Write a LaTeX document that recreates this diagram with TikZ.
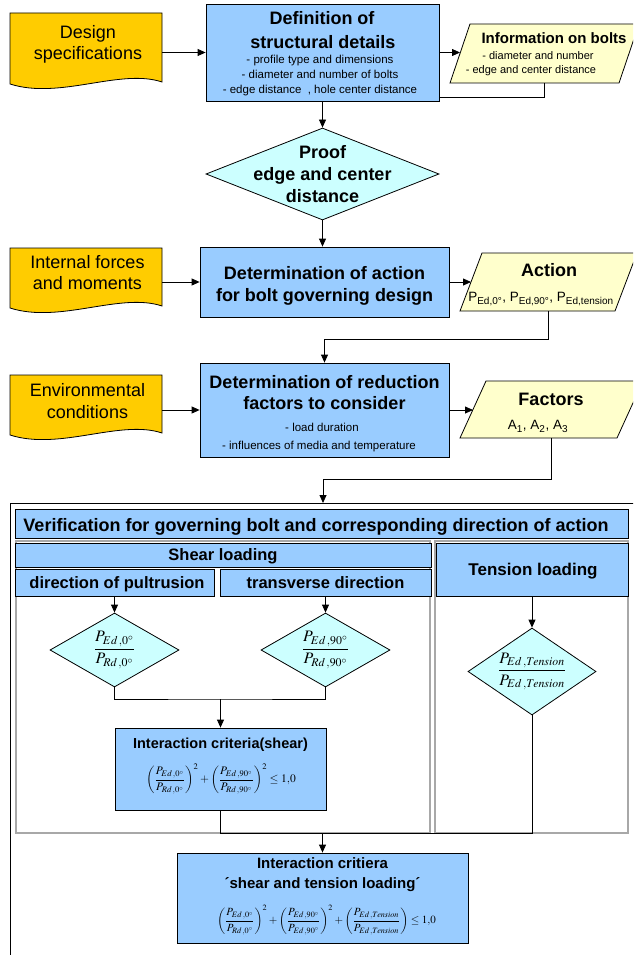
\documentclass[tikz,border=0pt]{standalone}
\usepackage{mathptmx}
\usepackage[no-math]{fontspec}
\setmainfont{Liberation Sans}
\usetikzlibrary{arrows.meta,shapes.geometric}
\definecolor{docyellow}{HTML}{FFCC00}
\definecolor{boxblue}{HTML}{99CCFF}
\definecolor{diacyan}{HTML}{CCFFFF}
\definecolor{paleyellow}{HTML}{FFFFCC}
\definecolor{panelgray}{HTML}{A8A8A8}

\tikzset{
  box/.style={draw=black, fill=boxblue, inner sep=0pt},
  decision/.style={diamond, draw=black, fill=diacyan, inner sep=0pt},
  dataio/.style={draw=black, fill=paleyellow},
  docshape/.style={draw=black, fill=docyellow},
  hull/.style={inner sep=0pt, outer sep=0pt},
  panel/.style={draw=panelgray, line width=1.2pt},
  arr/.style={-{Triangle[length=8pt,width=7pt]}},
  hb18/.style={inner sep=0pt, font=\bfseries\fontsize{18}{21}\selectfont, text height=13pt, text depth=0pt},
  hb17/.style={inner sep=0pt, font=\bfseries\fontsize{17}{20}\selectfont, text height=12.2pt, text depth=0pt},
  hb16/.style={inner sep=0pt, font=\bfseries\fontsize{16.5}{20}\selectfont, text height=11.9pt, text depth=0pt},
  hb15/.style={inner sep=0pt, font=\bfseries\fontsize{15}{18}\selectfont, text height=10.8pt, text depth=0pt},
  hb14/.style={inner sep=0pt, font=\bfseries\fontsize{14.5}{18}\selectfont, text height=10.4pt, text depth=0pt},
  tx18/.style={inner sep=0pt, font=\fontsize{18}{21}\selectfont, text height=13pt, text depth=0pt},
  tx13/.style={inner sep=0pt, font=\fontsize{13.5}{16}\selectfont, text height=9.7pt, text depth=0pt},
  tx11/.style={inner sep=0pt, font=\fontsize{11.5}{14}\selectfont, text height=8.3pt, text depth=0pt},
  tx11s/.style={inner sep=0pt, font=\fontsize{11}{14}\selectfont, text height=8pt, text depth=0pt},
  formula/.style={inner sep=0pt, font=\fontsize{11.5}{13}\selectfont},
  formulas/.style={inner sep=0pt, font=\fontsize{11}{13}\selectfont},
  ratio/.style={inner sep=0pt, font=\fontsize{16}{19}\selectfont},
}
% parallelogram around a hull node whose west/east anchors sit on the slanted sides
\newcommand\slantbox[2]{%
  \path[dataio] ([xshift=#2pt]#1.north west) -- ([xshift=#2pt]#1.north east)
    -- ([xshift=-#2pt]#1.south east) -- ([xshift=-#2pt]#1.south west) -- cycle;}

\begin{document}
\begin{tikzpicture}[x=1pt, y=-1pt, line width=0.8pt]
\useasboundingbox (0,0) rectangle (633,955);
\clip (0,0) rectangle (633,955);

% ---------- row 1: design specifications -> structural details -> bolt data
\path[docshape] (10,13) -- (162,13) -- (162,82) .. controls (120,68) and (60,100) .. (10,84) -- cycle;
\node[hull, minimum width=152, minimum height=71, anchor=north west] (spec) at (10,13) {};
\node[tx18] (specA) at (88,32) {Design};
\node[tx18] (specB) at (88,53) {specifications};

\node[box, minimum width=233, minimum height=97] (def) at (322.5,52.5) {};
\node[hb18] (defA) at (322,18) {Definition of};
\node[hb18] (defB) at (323,42) {structural details};
\node[tx11] (defC) at (320,59) {- profile type and dimensions};
\node[tx11] (defD) at (320,74) {- diameter and number of bolts};
\node[tx11] (defE) at (320,89) {- edge distance~~, hole center distance};

\node[hull, minimum width=169, minimum height=59] (info) at (544.5,53.5) {};
\slantbox{info}{10}
\node[hb15] (infoA) at (554,38) {Information on bolts};
\node[tx11s] (infoB) at (538,56) {- diameter and number};
\node[tx11s] (infoC) at (531,70) {- edge and center distance};

\draw[arr] (spec.east |- def.west) -- (def.west);
\draw[arr] (def.east) -- (def.east -| info.west);
\draw (info.south) |- ([yshift=4pt]def.south east);

% ---------- edge distance check
\node[decision, minimum width=233, minimum height=92] (proof) at (322.5,174) {};
\node[hb18] (proofA) at (322.5,152) {Proof};
\node[hb18] (proofB) at (322.5,174) {edge and center};
\node[hb18] (proofC) at (322.5,196) {distance};
\draw[arr] (def.south) -- (proof.north);

% ---------- row 2: governing action
\path[docshape] (10,248) -- (162,248) -- (162,306) .. controls (120,292) and (60,324) .. (10,308) -- cycle;
\node[hull, minimum width=152, minimum height=60, anchor=north west] (forces) at (10,248) {};
\node[tx18] (forcesA) at (87.5,262) {Internal forces};
\node[tx18] (forcesB) at (87.5,283) {and moments};

\node[box, minimum width=249, minimum height=70] (detact) at (324.5,282) {};
\node[hb18] (detactA) at (324.5,273) {Determination of action};
\node[hb18] (detactB) at (324.5,295) {for bolt governing design};

\node[hull, minimum width=155, minimum height=58] (action) at (548.5,282) {};
\slantbox{action}{11}
\node[hb18] (actionA) at (549,270) {Action};
\node[tx13] (actionB) at (541,297) {P\textsubscript{Ed,0°}, P\textsubscript{Ed,90°}, P\textsubscript{Ed,tension}};

\draw[arr] (proof.south) -- (proof.south |- detact.north);
\draw[arr] (forces.east |- detact.west) -- (detact.west);
\draw[arr] (detact.east) -- (detact.east -| action.west);

% ---------- row 3: reduction factors
\path[docshape] (10,375) -- (162,375) -- (162,433) .. controls (120,419) and (60,451) .. (10,435) -- cycle;
\node[hull, minimum width=152, minimum height=60, anchor=north west] (env) at (10,375) {};
\node[tx18] (envA) at (87.5,390) {Environmental};
\node[tx18] (envB) at (87.5,412) {conditions};

\node[box, minimum width=249, minimum height=94] (red) at (324.5,410) {};
\node[hb18] (redA) at (324.5,382) {Determination of reduction};
\node[hb18] (redB) at (324.5,403) {factors to consider};
\node[tx11] (redC) at (322,427) {- load duration};
\node[tx11] (redD) at (319,445) {- influences of media and temperature};

\node[hull, minimum width=157, minimum height=57] (factors) at (551.5,409.5) {};
\slantbox{factors}{13}
\node[hb18] (factorsA) at (551,399) {Factors};
\node[tx13] (factorsB) at (538,425) {A\textsubscript{1}, A\textsubscript{2}, A\textsubscript{3}};

\coordinate (j1) at (324.5,339);
\draw[arr] (action.south) |- (j1) -- (red.north);
\draw[arr] (env.east |- red.west) -- (red.west);
\draw[arr] (red.east) -- (red.east -| factors.west);

% ---------- verification block
\node[draw=black, line width=1pt, inner sep=0pt, minimum width=640, minimum height=470,
      anchor=north west] (frame) at (10,503) {};
\coordinate (j2) at (323,479);
\draw[arr] (factors.south) |- (j2) -- (j2 |- frame.north);

\node[box, minimum width=613, minimum height=29, anchor=north west] (verif) at (15,509) {};
\node[hb18] (verifA) at (316,525) {Verification for governing bolt and corresponding direction of action};

\draw[panel] (16,541) rectangle (430,833);
\draw[panel] (435,541) rectangle (628,833);

\node[box, minimum width=416, minimum height=24] (shear) at (223,555) {};
\node[hb16] (shearA) at (223,555) {Shear loading};
\node[box, minimum width=199, minimum height=27] (pult) at (114.5,582.5) {};
\node[hb16] (pultA) at (117,583) {direction of pultrusion};
\node[box, minimum width=211, minimum height=27] (trans) at (325.5,582.5) {};
\node[hb16] (transA) at (325.5,583) {transverse direction};
\node[box, minimum width=192, minimum height=53] (tens) at (532,569.5) {};
\node[hb17] (tensA) at (533,569) {Tension loading};

\node[decision, minimum width=129, minimum height=74] (d1) at (114.5,650) {};
\node[ratio] (f1) at (d1) {$\displaystyle\frac{P_{Ed\,,0^\circ}}{P_{Rd\,,0^\circ}}$};
\node[decision, minimum width=129, minimum height=74] (d2) at (325.5,650) {};
\node[ratio] (f2) at (d2) {$\displaystyle\frac{P_{Ed\,,90^\circ}}{P_{Rd\,,90^\circ}}$};
\node[decision, minimum width=128, minimum height=87] (dt) at (532,671.5) {};
\node[ratio] (ft) at (dt) {$\displaystyle\frac{P_{Ed\,,Tension}}{P_{Ed\,,Tension}}$};

\draw[arr] (pult.south) -- (d1.north);
\draw[arr] (trans.south) -- (d2.north);
\draw[arr] (tens.south) -- (dt.north);

\node[box, minimum width=211, minimum height=82] (ic) at (220.5,769) {};
\node[hb14] (icA) at (220.5,743) {Interaction criteria(shear)};
\node[formula] (icB) at (221,779) {$\displaystyle
  \left(\frac{P_{Ed\,,0^\circ}}{P_{Rd\,,0^\circ}}\right)^{2}+
  \left(\frac{P_{Ed\,,90^\circ}}{P_{Rd\,,90^\circ}}\right)^{2}\le 1{,}0$};

\coordinate (j3) at (220.5,699);
\draw (d1.south) |- (j3) -| (d2.south);
\draw[arr] (j3) -- (ic.north);

% ---------- combined check
\node[box, minimum width=291, minimum height=90] (fin) at (322.5,898) {};
\node[hb15] (finA) at (322.5,863) {Interaction critiera};
\node[hb15] (finB) at (322.5,883) {´shear and tension loading´};
\node[formulas] (finC) at (326.5,920) {$\displaystyle
  \left(\frac{P_{Ed\,,0^\circ}}{P_{Rd\,,0^\circ}}\right)^{2}+
  \left(\frac{P_{Ed\,,90^\circ}}{P_{Ed\,,90^\circ}}\right)^{2}+
  \left(\frac{P_{Ed\,,Tension}}{P_{Ed\,,Tension}}\right)\le 1{,}0$};

\coordinate (j4) at (322.5,833);
\draw (ic.south) |- (j4) -| (dt.south);
\draw[arr] (j4) -- (fin.north);
\end{tikzpicture}
\end{document}
